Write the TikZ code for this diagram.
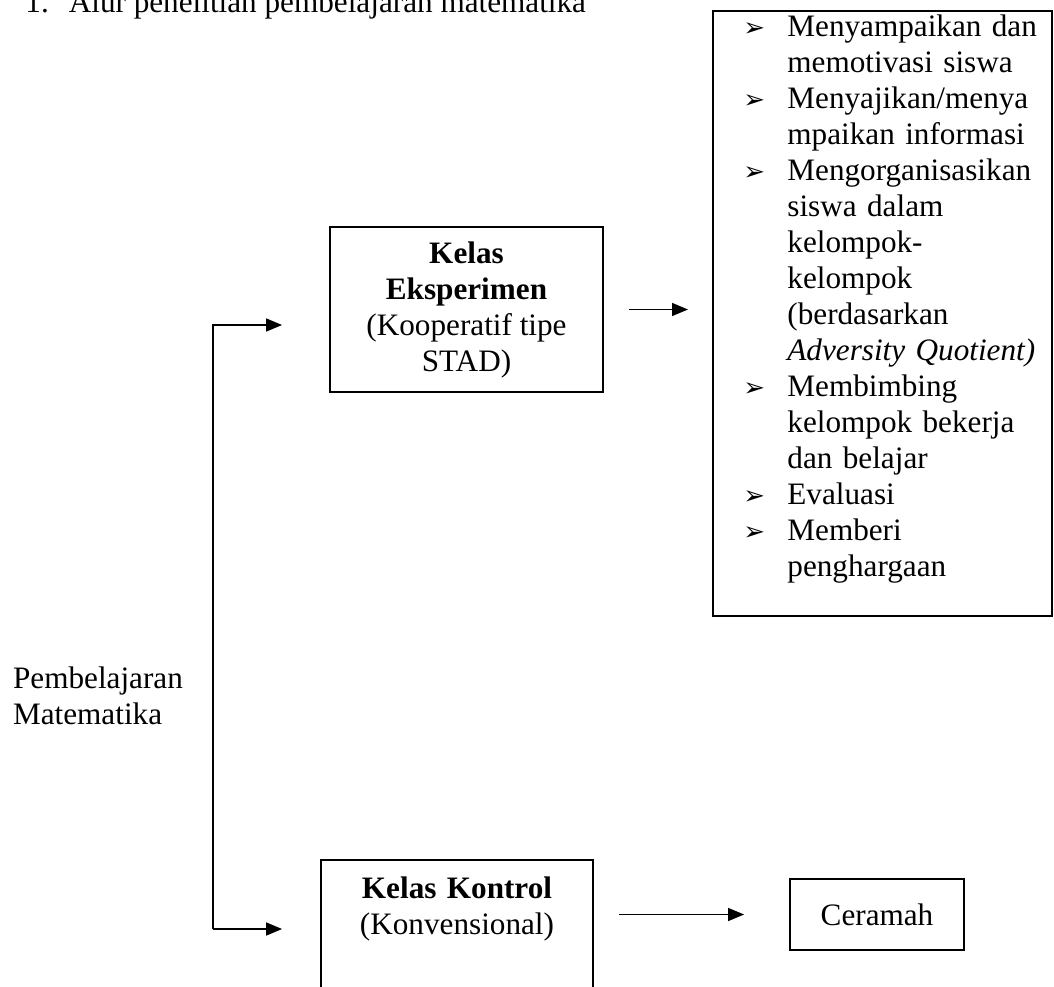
\documentclass[tikz,border=0pt]{standalone}
\usepackage{fontspec}
\setmainfont{Liberation Serif}
\newfontfamily\dejavu{DejaVu Sans}
\usetikzlibrary{arrows.meta,calc,positioning}
\newcommand{\butir}{\makebox[22pt][l]{\dejavu\fontsize{13}{13}\selectfont ➢}}
\newcommand{\lanjut}{\hspace*{22pt}}

\begin{document}
\begin{tikzpicture}[x=0.5pt,y=-0.5pt,
    kotak/.style={draw, line width=0.9pt, inner sep=0pt},
    teks/.style={inner sep=0pt, font=\fontsize{15.6}{18}\selectfont},
    panah/.style={line width=0.75pt, line join=miter, -{Triangle[length=8pt,width=6.5pt]}}]
    \useasboundingbox (0,0) rectangle (1054,986);

    \node[teks, anchor=base west] (judul) at (25,12.7)
        {1.\hspace{10pt}Alur penelitian pembelajaran matematika};

    % langkah-langkah STAD
    \node[kotak, anchor=north west, minimum width=169.5pt, minimum height=302.5pt] (langkah) at (712,10) {};
    \node[teks, anchor=base west, align=left, text width=160pt] (isi) at (743,36) {%
        \butir Menyampaikan dan\\
        \lanjut memotivasi siswa\\
        \butir Menyajikan/menya\\
        \lanjut mpaikan informasi\\
        \butir Mengorganisasikan\\
        \lanjut siswa dalam\\
        \lanjut kelompok-\\
        \lanjut kelompok\\
        \lanjut (berdasarkan\\
        \lanjut \textit{Adversity Quotient)}\\
        \butir Membimbing\\
        \lanjut kelompok bekerja\\
        \lanjut dan belajar\\
        \butir Evaluasi\\
        \butir Memberi\\
        \lanjut penghargaan};

    \node[kotak, teks, align=center, minimum width=136.5pt, minimum height=82.5pt] (eksp) at (466.5,309.5)
        {\textbf{Kelas}\\\textbf{Eksperimen}\\(Kooperatif tipe\\STAD)};

    \node[kotak, anchor=north, minimum width=136pt, minimum height=90pt] (kontrol) at (457,859) {};
    \node[teks, anchor=base, align=center, text width=130pt] (kontrolisi) at (457,898)
        {\textbf{Kelas Kontrol}\\(Konvensional)};

    \node[kotak, teks, minimum width=87pt, minimum height=35.5pt] (ceramah) at (877,914.5) {Ceramah};

    \node[teks, anchor=base west, align=left, text width=100pt] (pm) at (12.7,688)
        {Pembelajaran\\Matematika};

    % percabangan
    \coordinate (sudutatas) at (213,325);
    \coordinate (sudutbawah) at (213,929);
    \draw[panah, shorten >=23.5pt] (sudutbawah) -- (sudutatas) -- (sudutatas -| eksp.west);
    \draw[panah, shorten >=19pt] (sudutbawah) -- (sudutbawah -| kontrol.west);

    \draw[panah, shorten <=12.5pt, shorten >=12pt] (eksp.east) -- (eksp.east -| langkah.west);
    \draw[panah, shorten <=12.5pt, shorten >=22.5pt] (kontrol.east |- ceramah.west) -- (ceramah.west);
\end{tikzpicture}
\end{document}
